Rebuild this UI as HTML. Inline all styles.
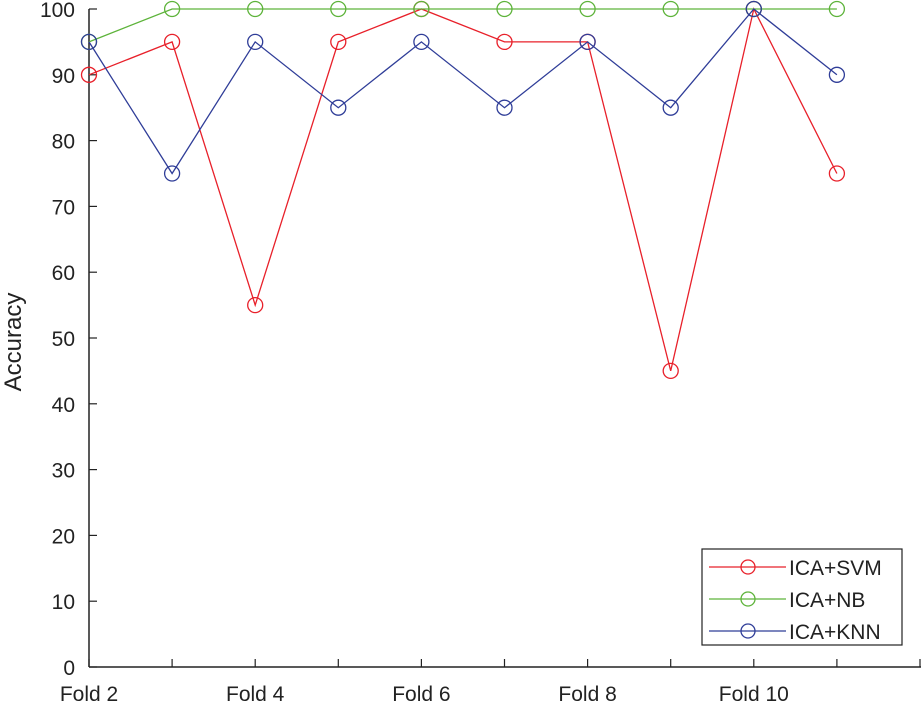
<!DOCTYPE html>
<html><head><meta charset="utf-8"><style>
html,body{margin:0;padding:0;background:#fff;}
svg{display:block;font-family:"Liberation Sans",Arial,sans-serif;}
</style></head><body>
<svg id="chart" width="923" height="707" viewBox="0 0 923 707" xmlns="http://www.w3.org/2000/svg">
<g id="axes"></g>
<g id="series"></g>
<text x="21" y="342" font-size="24" fill="#222" text-anchor="middle" transform="rotate(-90 21 342)">Accuracy</text>
<g>
<rect x="702" y="549" width="200" height="96" fill="#fff" stroke="#222" stroke-width="1.2"/>
<g><line x1="709" y1="567" x2="786" y2="567" stroke="#e8202a" stroke-width="1.3"/><circle cx="748" cy="567" r="7" fill="none" stroke="#e8202a" stroke-width="1.3"/><text x="789" y="575" font-size="21" fill="#222">ICA+SVM</text></g>
<g><line x1="709" y1="599" x2="786" y2="599" stroke="#5db33a" stroke-width="1.3"/><circle cx="748" cy="599" r="7" fill="none" stroke="#5db33a" stroke-width="1.3"/><text x="789" y="607" font-size="21" fill="#222">ICA+NB</text></g>
<g><line x1="709" y1="631" x2="786" y2="631" stroke="#2f3d98" stroke-width="1.3"/><circle cx="748" cy="631" r="7" fill="none" stroke="#2f3d98" stroke-width="1.3"/><text x="789" y="639" font-size="21" fill="#222">ICA+KNN</text></g>
</g>
</svg>
<script>
const folds = [2,3,4,5,6,7,8,9,10,11];
const tickFolds = [2,4,6,8,10];
const yTicks = [0,10,20,30,40,50,60,70,80,90,100];
const svmValues = [90,95,55,95,100,95,95,45,100,75];
const nbValues = [95,100,100,100,100,100,100,100,100,100];
const knnValues = [95,75,95,85,95,85,95,85,100,90];
const NS="http://www.w3.org/2000/svg";
function xs(f){return 89+(f-2)*83.1;}
function ys(v){return 667-v*6.58;}
function mk(tag,attrs,parent){const e=document.createElementNS(NS,tag);for(const k in attrs)e.setAttribute(k,attrs[k]);parent.appendChild(e);return e;}
const axes=document.getElementById('axes');
let l=mk('line',{x1:89,y1:ys(100),x2:89,y2:667,stroke:'#222','stroke-width':1.5},axes);


l=mk('line',{x1:89,y1:667,x2:921,y2:667,stroke:'#222','stroke-width':1.5},axes);


yTicks.forEach(v=>{
 const t=mk('line',{x1:89,y1:ys(v),x2:97,y2:ys(v),stroke:'#222','stroke-width':1.2},axes);
 
 
 const tx=mk('text',{x:75,y:ys(v)+8,'font-size':21,'text-anchor':'end',fill:'#222'},axes);
 tx.textContent=v;
 
 
});
for(let f=2;f<=12;f++){
 const t=mk('line',{x1:xs(f),y1:667,x2:xs(f),y2:659,stroke:'#222','stroke-width':1.2},axes);
 
 
}
tickFolds.forEach(f=>{
 const tx=mk('text',{x:xs(f),y:701,'font-size':21,'text-anchor':'middle',fill:'#222'},axes);
 tx.textContent='Fold '+f;
 
 
});
const series=document.getElementById('series');
[[svmValues,'#e8202a','svm'],[nbValues,'#5db33a','nb'],[knnValues,'#2f3d98','knn']].forEach(([vals,c,n])=>{
 const g=mk('g',{},series);
 
 
 const p=mk('polyline',{points:vals.map((v,i)=>xs(folds[i])+','+ys(v)).join(' '),fill:'none',stroke:c,'stroke-width':1.3},g);
 
 
 vals.forEach((v,i)=>{
  const ci=mk('circle',{cx:xs(folds[i]),cy:ys(v),r:7.5,fill:'none',stroke:c,'stroke-width':1.3},g);
  
  
 });
});
</script>
</body></html>
